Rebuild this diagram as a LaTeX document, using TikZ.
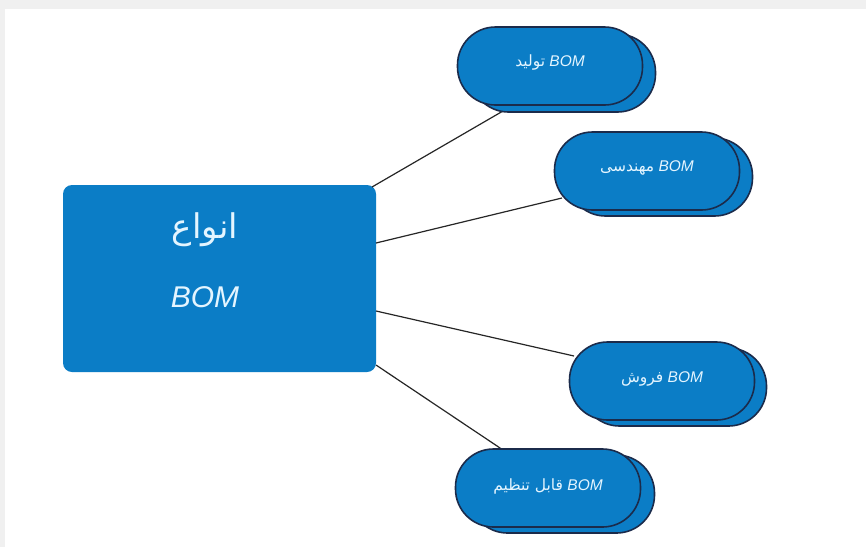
\documentclass[tikz,border=0pt]{standalone}
\usepackage{fontspec}
\setmainfont{Liberation Sans}
\newfontfamily\arabicfont[Script=Arabic]{DejaVu Sans}
\TeXXeTstate=1
\definecolor{graybg}{HTML}{F0F0F0}
\definecolor{boxblue}{HTML}{0B7DC6}
\definecolor{pillborder}{HTML}{1B2B4B}
\definecolor{paletext}{HTML}{E4F5FF}
\definecolor{linecol}{HTML}{262626}
\tikzset{
  mainbox/.style={fill=boxblue, draw=none, rounded corners=9pt, minimum width=313pt, minimum height=187pt, inner sep=0pt},
  maintext/.style={text=paletext, font=\fontsize{30}{34}\selectfont, inner sep=0pt},
  pill/.style={fill=boxblue, draw=pillborder, line width=1.6pt, rounded corners=38pt, minimum width=185pt, minimum height=78pt, inner sep=0pt},
  pilltext/.style={text=paletext, font=\fontsize{15.5}{18}\selectfont},
  conn/.style={draw=linecol, line width=1.2pt}
}
\begin{document}
\begin{tikzpicture}[x=1pt,y=-1pt]
\useasboundingbox (0,0) rectangle (866,547);
\fill[graybg] (0,0) rectangle (866,547);
\fill[white] (5,9) rectangle (866,547);

% main box
\node[mainbox] (main) at (219.5,278.5) {};
\node[maintext, font=\fontsize{34}{38}\selectfont] (mt1) at (205,230) {\arabicfont\beginR انواع\endR};
\node[maintext] (mt2) at (205,297) {\itshape BOM};

% connector anchors
\coordinate (s1) at (372,187);
\coordinate (s2) at (376,243);
\coordinate (s3) at (376,311);
\coordinate (s4) at (376,365);
\coordinate (e1) at (503,111);
\coordinate (e2) at (562,198);
\coordinate (e3) at (574,356);
\coordinate (e4) at (512,456);
\draw[conn] (s1) -- (e1);
\draw[conn] (s2) -- (e2);
\draw[conn] (s3) -- (e3);
\draw[conn] (s4) -- (e4);

% pills (back then front)
\node[pill] (b1) at (563,73) {};
\node[pill] (p1) at (550,66) {};
\node[pilltext] (l1) at (550,62) {{\arabicfont\beginR تولید\endR} {\itshape BOM}};

\node[pill] (b2) at (660,177) {};
\node[pill] (p2) at (647,171) {};
\node[pilltext] (l2) at (647,168) {{\arabicfont\beginR مهندسی\endR} {\itshape BOM}};

\node[pill] (b3) at (674,387) {};
\node[pill] (p3) at (662,381) {};
\node[pilltext] (l3) at (662,379) {{\arabicfont\beginR فروش\endR} {\itshape BOM}};

\node[pill] (b4) at (562,494) {};
\node[pill] (p4) at (548,488) {};
\node[pilltext] (l4) at (548,486) {{\arabicfont\beginR قابل تنظیم\endR} {\itshape BOM}};
\end{tikzpicture}
\end{document}
